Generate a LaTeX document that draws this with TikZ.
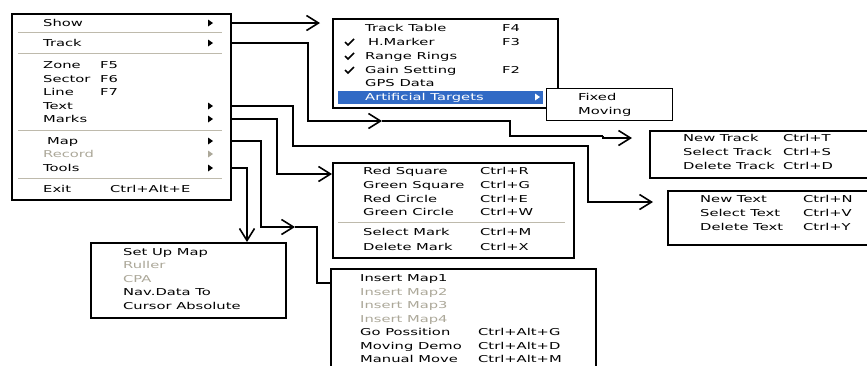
\documentclass[tikz,border=0pt]{standalone}
\usepackage{fontspec}
\setmainfont[FakeStretch=1.55]{DejaVu Sans}
\usetikzlibrary{arrows.meta,positioning}
\definecolor{mnugray}{RGB}{172,168,153}
\definecolor{mnusep}{RGB}{190,186,172}
\definecolor{mnublue}{RGB}{49,106,197}

\begin{document}
\begin{tikzpicture}[x=1pt,y=-1pt,
  font=\fontsize{9.5pt}{11pt}\selectfont,
  menubox/.style={draw,line width=1.6pt,fill=white,anchor=north west,inner sep=0pt},
  item/.style={anchor=west,inner sep=0pt,text height=7pt,text depth=0pt},
  off/.style={item,text=mnugray},
  sep/.style={mnusep,line width=0.8pt},
  wire/.style={line width=1.6pt},
  conn/.style={wire,-{Straight Barb[length=12pt,width=15pt]}}]
  \useasboundingbox (0,0) rectangle (867,365);
  \clip (0,0) rectangle (867,365);

  % main menu
  \node[menubox,line width=2.4pt,minimum width=219pt,minimum height=186pt] (mainmenu) at (11,13) {};
  \node[item] (mShow) at (43,23) {Show};
  \node[item] (mTrack) at (43,43) {Track};
  \node[item] (mZone) at (43,65) {Zone};
  \node[item] at (100,65) {F5};
  \node[item] (mSector) at (43,79) {Sector};
  \node[item] at (100,79) {F6};
  \node[item] (mLine) at (43,92) {Line};
  \node[item] at (100,92) {F7};
  \node[item] (mText) at (43,106) {Text};
  \node[item] (mMarks) at (43,119) {Marks};
  \node[item] (mMap) at (47,141) {Map};
  \node[off] (mRecord) at (43,154) {Record};
  \node[item] (mTools) at (43,168) {Tools};
  \node[item] (mExit) at (43,189) {Exit};
  \node[item] at (110,189) {Ctrl+Alt+E};
  \foreach \y in {32,53,130,178}
    \draw[sep] (18,\y) -- (222,\y);
  \foreach \y in {23,43,106,119,141,168}
    \fill (208,\y-3.5) -- (213,\y) -- (208,\y+3.5) -- cycle;
  \fill[mnugray] (208,150.5) -- (213,154) -- (208,157.5) -- cycle;

  % Show submenu
  \node[menubox,minimum width=225pt,minimum height=89pt] (showmenu) at (332,18) {};
  \fill[mnublue] (338,91) rectangle (543,104);
  \node[item] (sTable) at (365,28) {Track Table};
  \node[item] at (502,28) {F4};
  \node[item] (sMarker) at (368,42) {H.Marker};
  \node[item] at (502,42) {F3};
  \node[item] (sRings) at (365,56) {Range Rings};
  \node[item] (sGain) at (365,70) {Gain Setting};
  \node[item] at (502,70) {F2};
  \node[item] (sGPS) at (365,83) {GPS Data};
  \node[item,text=white] (sTargets) at (365,97) {Artificial Targets};
  \fill[white] (535,93.5) -- (540,97) -- (535,100.5) -- cycle;
  \foreach \y in {43,57,71}
    \draw[line width=1.6pt] (345,\y-1) -- (348,\y+2) -- (354,\y-4);

  % Artificial Targets submenu
  \node[menubox,line width=1.2pt,minimum width=126pt,minimum height=32pt] (targetmenu) at (546,88) {};
  \node[item] (aFixed) at (578,97) {Fixed};
  \node[item] (aMoving) at (578,111) {Moving};

  % Track submenu
  \node[menubox,minimum width=240pt,minimum height=47pt] (trackmenu) at (649,130) {};
  \node[item] (tNew) at (683,138) {New Track};
  \node[item] at (783,138) {Ctrl+T};
  \node[item] (tSelect) at (683,152) {Select Track};
  \node[item] at (783,152) {Ctrl+S};
  \node[item] (tDelete) at (683,166) {Delete Track};
  \node[item] at (783,166) {Ctrl+D};

  % Text submenu
  \node[menubox,minimum width=230pt,minimum height=54pt] (textmenu) at (667,190) {};
  \node[item] (xNew) at (700,199) {New Text};
  \node[item] at (803,199) {Ctrl+N};
  \node[item] (xSelect) at (700,213) {Select Text};
  \node[item] at (803,213) {Ctrl+V};
  \node[item] (xDelete) at (700,227) {Delete Text};
  \node[item] at (803,227) {Ctrl+Y};

  % Marks submenu
  \node[menubox,minimum width=241pt,minimum height=95pt] (marksmenu) at (332,162) {};
  \node[item] (kRedSq) at (363,171) {Red Square};
  \node[item] at (480,171) {Ctrl+R};
  \node[item] (kGreenSq) at (363,185) {Green Square};
  \node[item] at (480,185) {Ctrl+G};
  \node[item] (kRedCi) at (363,199) {Red Circle};
  \node[item] at (480,199) {Ctrl+E};
  \node[item] (kGreenCi) at (363,212) {Green Circle};
  \node[item] at (480,212) {Ctrl+W};
  \draw[sep] (338,222) -- (565,222);
  \node[item] (kSelect) at (363,232) {Select Mark};
  \node[item] at (480,232) {Ctrl+M};
  \node[item] (kDelete) at (363,247) {Delete Mark};
  \node[item] at (480,247) {Ctrl+X};

  % Tools submenu
  \node[menubox,minimum width=195pt,minimum height=75pt] (toolsmenu) at (90,242) {};
  \node[item] (oSetup) at (123,252) {Set Up Map};
  \node[off] (oRuller) at (123,265) {Ruller};
  \node[off] (oCPA) at (123,279) {CPA};
  \node[item] (oNav) at (123,292) {Nav.Data To};
  \node[item] (oCursor) at (123,306) {Cursor Absolute};

  % Map submenu
  \node[menubox,minimum width=265pt,minimum height=110pt] (mapmenu) at (330,268) {};
  \node[item] (pMap1) at (360,278) {Insert Map1};
  \node[off] (pMap2) at (360,292) {Insert Map2};
  \node[off] (pMap3) at (360,305) {Insert Map3};
  \node[off] (pMap4) at (360,319) {Insert Map4};
  \node[item] (pGo) at (360,332) {Go Possition};
  \node[item] at (478,332) {Ctrl+Alt+G};
  \node[item] (pDemo) at (360,346) {Moving Demo};
  \node[item] at (478,346) {Ctrl+Alt+D};
  \node[item] (pManual) at (360,359) {Manual Move};
  \node[item] at (478,359) {Ctrl+Alt+M};

  % connectors
  \coordinate (trkA) at (308,121);
  \coordinate (trkM) at (382,121);
  \coordinate (trkB) at (510,136);
  \coordinate (trkC) at (603,136);
  \coordinate (txtA) at (293,146);
  \coordinate (txtB) at (588,202);
  \coordinate (mrkA) at (277,174);
  \coordinate (mapA) at (261,227);
  \coordinate (mapM) at (295,227);
  \coordinate (mapB) at (317,283);
  \coordinate (tlsA) at (247,242);

  \draw[conn,shorten >=12pt] (mainmenu.east |- mShow) -- (showmenu.west |- mShow);
  \draw[conn] (mainmenu.east |- mTrack) -| (trkA) -- (trkM);
  \draw[wire] (trkM) -| (trkB) -- (trkC);
  \draw[conn,shorten >=17pt] (trkC) |- (trackmenu.west |- tNew);
  \draw[conn,shorten >=14pt] (mainmenu.east |- mText) -| (txtA) -| (txtB) -- (textmenu.west |- txtB);
  \draw[conn] (mainmenu.east |- mMarks) -| (mrkA) -- (marksmenu.west |- mrkA);
  \draw[conn] (mainmenu.east |- mMap) -| (mapA) -- (mapM);
  \draw[wire] (mapM) -| (mapB) -- (mapmenu.west |- mapB);
  \draw[conn] (mainmenu.east |- mTools) -| (tlsA);
\end{tikzpicture}
\end{document}
